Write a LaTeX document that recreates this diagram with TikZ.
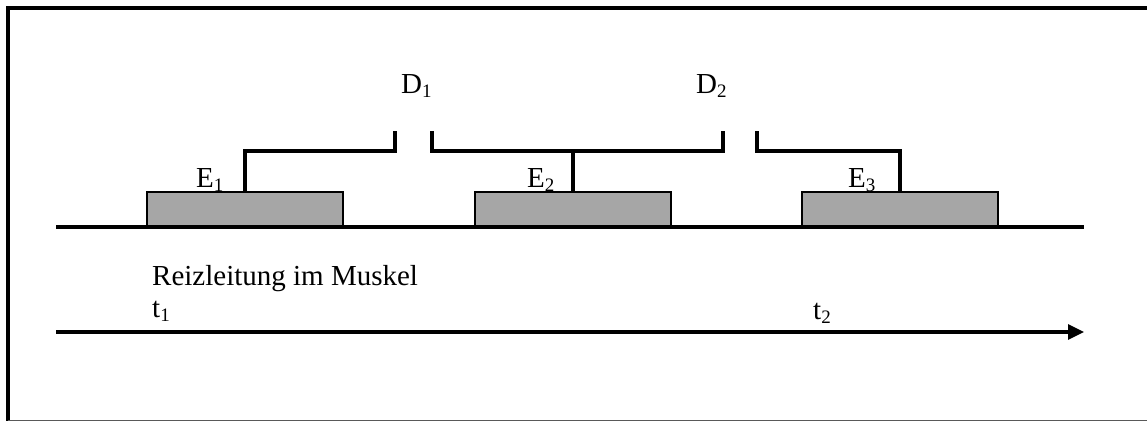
\documentclass[tikz,border=0pt]{standalone}
\usepackage{fontspec}
\setmainfont{Liberation Serif}
\usetikzlibrary{arrows.meta}
\definecolor{boxgray}{HTML}{A6A6A6}
\newcommand{\mysub}[1]{\raisebox{-0.14em}{\fontsize{19}{19}\selectfont #1}}
\tikzset{
  lbl/.style={anchor=base west, inner sep=0pt, font=\fontsize{29}{34}\selectfont},
  pulse/.style={draw=black, line width=1.3pt, fill=boxgray, minimum width=196pt, minimum height=35pt, inner sep=0pt, outer sep=0pt},
  bracket/.style={line width=3.2pt, line join=miter},
  axisline/.style={line width=3.2pt},
}
\begin{document}
\begin{tikzpicture}[x=1pt,y=-1pt]
\useasboundingbox (0,0) rectangle (1147,421);
% frame
\draw[line width=3.2pt] (1147,8) -- (8,8) -- (8,421);
\draw[gray!70!black, line width=1pt] (8,420) -- (1147,420);
% pulses
\node[pulse] (e1box) at (245,209.5) {};
\node[pulse] (e2box) at (573,209.5) {};
\node[pulse] (e3box) at (900,209.5) {};
% baseline
\coordinate (bl) at (56,227);
\coordinate (br) at (1084,227);
\draw[axisline] (bl) -- (br);
% brackets
\coordinate (d1a) at (395,131);
\coordinate (d1b) at (432,131);
\coordinate (d2a) at (723,131);
\coordinate (d2b) at (757,131);
\draw[bracket] (e1box.north) -- (245,151) -- (395,151) -- (d1a);
\draw[bracket] (d1b) -- (432,151) -- (723,151) -- (d2a);
\draw[bracket] (573,151) -- (e2box.north);
\draw[bracket] (d2b) -- (757,151) -- (900,151) -- (e3box.north);
% labels
\node[lbl] (d1) at (401,93) {D\mysub{1}};
\node[lbl] (d2) at (696,93) {D\mysub{2}};
\node[lbl] (e1) at (196,187) {E\mysub{1}};
\node[lbl] (e2) at (527,187) {E\mysub{2}};
\node[lbl] (e3) at (848,187) {E\mysub{3}};
\node[lbl] (reiz) at (152,285) {Reizleitung im Muskel};
\node[lbl] (t1) at (152,317) {t\mysub{1}};
\node[lbl] (t2) at (813,319) {t\mysub{2}};
% time arrow
\coordinate (al) at (56,332);
\coordinate (ar) at (1084,332);
\draw[axisline, -{Triangle[length=16pt,width=15pt]}] (al) -- (ar);
\end{tikzpicture}
\end{document}
